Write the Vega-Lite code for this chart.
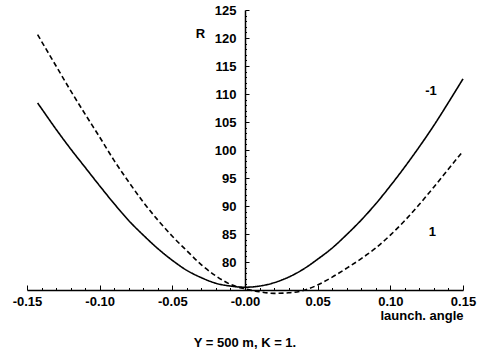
{
  "$schema": "https://vega.github.io/schema/vega-lite/v6.json",
  "width": 436,
  "height": 280,
  "autosize": "none",
  "padding": {"left": 27, "top": 10, "right": 18, "bottom": 64},
  "background": "white",
  "config": {
    "view": {"stroke": null},
    "font": "Liberation Sans",
    "axis": {
      "grid": false,
      "domainColor": "black",
      "tickColor": "black",
      "labelColor": "black",
      "titleColor": "black",
      "labelFont": "Liberation Sans",
      "labelFontWeight": "bold",
      "labelFontSize": 13,
      "titleFont": "Liberation Sans",
      "titleFontWeight": "bold",
      "titleFontSize": 13,
      "domainWidth": 1.5,
      "tickWidth": 1
    },
    "title": {"font": "Liberation Sans", "fontWeight": "bold", "fontSize": 13, "color": "black"}
  },
  "title": {"text": "Y = 500 m, K = 1.", "orient": "bottom", "anchor": "middle", "offset": 15},
  "resolve": {"axis": {"x": "independent", "y": "independent"}},
  "datasets": {
    "curves": [
      {"x": -0.1427, "R": 108.4, "s": "-1"},
      {"x": -0.14, "R": 107.4, "s": "-1"},
      {"x": -0.13, "R": 103.7, "s": "-1"},
      {"x": -0.12, "R": 100.2, "s": "-1"},
      {"x": -0.11, "R": 96.9, "s": "-1"},
      {"x": -0.10, "R": 93.6, "s": "-1"},
      {"x": -0.09, "R": 90.4, "s": "-1"},
      {"x": -0.08, "R": 87.4, "s": "-1"},
      {"x": -0.07, "R": 84.8, "s": "-1"},
      {"x": -0.06, "R": 82.4, "s": "-1"},
      {"x": -0.05, "R": 80.3, "s": "-1"},
      {"x": -0.04, "R": 78.5, "s": "-1"},
      {"x": -0.03, "R": 77.2, "s": "-1"},
      {"x": -0.02, "R": 76.2, "s": "-1"},
      {"x": -0.01, "R": 75.7, "s": "-1"},
      {"x": 0.0, "R": 75.5, "s": "-1"},
      {"x": 0.01, "R": 75.7, "s": "-1"},
      {"x": 0.02, "R": 76.3, "s": "-1"},
      {"x": 0.03, "R": 77.3, "s": "-1"},
      {"x": 0.04, "R": 78.7, "s": "-1"},
      {"x": 0.05, "R": 80.5, "s": "-1"},
      {"x": 0.06, "R": 82.5, "s": "-1"},
      {"x": 0.07, "R": 84.9, "s": "-1"},
      {"x": 0.08, "R": 87.5, "s": "-1"},
      {"x": 0.09, "R": 90.4, "s": "-1"},
      {"x": 0.10, "R": 93.6, "s": "-1"},
      {"x": 0.11, "R": 97.0, "s": "-1"},
      {"x": 0.12, "R": 100.6, "s": "-1"},
      {"x": 0.13, "R": 104.4, "s": "-1"},
      {"x": 0.14, "R": 108.5, "s": "-1"},
      {"x": 0.15, "R": 112.7, "s": "-1"},
      {"x": -0.1427, "R": 120.6, "s": "1"},
      {"x": -0.14, "R": 119.4, "s": "1"},
      {"x": -0.13, "R": 115.0, "s": "1"},
      {"x": -0.12, "R": 110.6, "s": "1"},
      {"x": -0.11, "R": 106.4, "s": "1"},
      {"x": -0.10, "R": 102.3, "s": "1"},
      {"x": -0.09, "R": 98.1, "s": "1"},
      {"x": -0.08, "R": 94.3, "s": "1"},
      {"x": -0.07, "R": 90.7, "s": "1"},
      {"x": -0.06, "R": 87.5, "s": "1"},
      {"x": -0.05, "R": 84.6, "s": "1"},
      {"x": -0.04, "R": 82.0, "s": "1"},
      {"x": -0.03, "R": 79.5, "s": "1"},
      {"x": -0.02, "R": 77.5, "s": "1"},
      {"x": -0.01, "R": 76.0, "s": "1"},
      {"x": 0.0, "R": 75.2, "s": "1"},
      {"x": 0.01, "R": 74.7, "s": "1"},
      {"x": 0.02, "R": 74.4, "s": "1"},
      {"x": 0.03, "R": 74.5, "s": "1"},
      {"x": 0.04, "R": 74.9, "s": "1"},
      {"x": 0.05, "R": 75.9, "s": "1"},
      {"x": 0.06, "R": 77.3, "s": "1"},
      {"x": 0.07, "R": 78.9, "s": "1"},
      {"x": 0.08, "R": 80.6, "s": "1"},
      {"x": 0.09, "R": 82.5, "s": "1"},
      {"x": 0.10, "R": 84.8, "s": "1"},
      {"x": 0.11, "R": 87.4, "s": "1"},
      {"x": 0.12, "R": 90.3, "s": "1"},
      {"x": 0.13, "R": 93.4, "s": "1"},
      {"x": 0.14, "R": 96.6, "s": "1"},
      {"x": 0.15, "R": 99.8, "s": "1"}
    ],
    "labels": [
      {"x": 0.128, "R": 110.6, "t": "-1"},
      {"x": 0.129, "R": 85.4, "t": "1"}
    ]
  },
  "layer": [
    {
      "data": {"name": "curves"},
      "mark": {"type": "line", "color": "black", "strokeWidth": 1.6, "interpolate": "monotone", "clip": false},
      "encoding": {
        "x": {
          "field": "x", "type": "quantitative",
          "scale": {"domain": [-0.15, 0.15], "nice": false, "zero": false},
          "axis": {
            "title": "launch. angle",
            "orient": "bottom",
            "values": [-0.15, -0.1, -0.05, 0, 0.05, 0.1, 0.15],
            "labelExpr": "abs(datum.value) < 1e-9 ? '-0.00' : replace(format(datum.value, '.2f'), '\u2212', '-')",
            "tickSize": -5,
            "labelPadding": 10,
            "labelOverlap": false,
            "labelFlush": false,
            "labelBound": false,
            "titleAnchor": "end",
            "titleAlign": "right",
            "titleBaseline": "middle",
            "titleX": 436,
            "titleY": 25
          }
        },
        "y": {
          "field": "R", "type": "quantitative",
          "scale": {"domain": [75, 125], "nice": false, "zero": false},
          "axis": {
            "title": "R",
            "orient": "left",
            "offset": -218,
            "values": [80, 85, 90, 95, 100, 105, 110, 115, 120, 125],
            "tickSize": -4,
            "labelPadding": 13,
            "labelOverlap": false,
            "labelBound": false,
            "titleAngle": 0,
            "titleAlign": "center",
            "titleBaseline": "middle",
            "titleX": -45,
            "titleY": 23
          }
        },
        "strokeDash": {
          "field": "s", "type": "nominal",
          "scale": {"domain": ["-1", "1"], "range": [[1, 0], [5, 3]]},
          "legend": null
        }
      }
    },
    {
      "data": {"name": "curves"},
      "mark": {"type": "point", "opacity": 0},
      "encoding": {
        "x": {
          "field": "x", "type": "quantitative",
          "axis": {
            "title": null,
            "labels": false,
            "domain": false,
            "orient": "bottom",
            "values": [-0.14,-0.13,-0.12,-0.11,-0.09,-0.08,-0.07,-0.06,-0.04,-0.03,-0.02,-0.01,0.01,0.02,0.03,0.04,0.06,0.07,0.08,0.09,0.11,0.12,0.13,0.14],
            "tickSize": -2.5
          }
        },
        "y": {
          "field": "R", "type": "quantitative",
          "axis": {
            "title": null,
            "labels": false,
            "domain": false,
            "orient": "left",
            "offset": -218,
            "values": [76,77,78,79,81,82,83,84,86,87,88,89,91,92,93,94,96,97,98,99,101,102,103,104,106,107,108,109,111,112,113,114,116,117,118,119,121,122,123,124],
            "tickSize": -1.5
          }
        }
      }
    },
    {
      "data": {"name": "labels"},
      "mark": {"type": "text", "font": "Liberation Sans", "fontWeight": "bold", "fontSize": 13, "color": "black", "align": "center", "baseline": "middle"},
      "encoding": {
        "x": {"field": "x", "type": "quantitative", "axis": null},
        "y": {"field": "R", "type": "quantitative", "axis": null},
        "text": {"field": "t"}
      }
    }
  ]
}
